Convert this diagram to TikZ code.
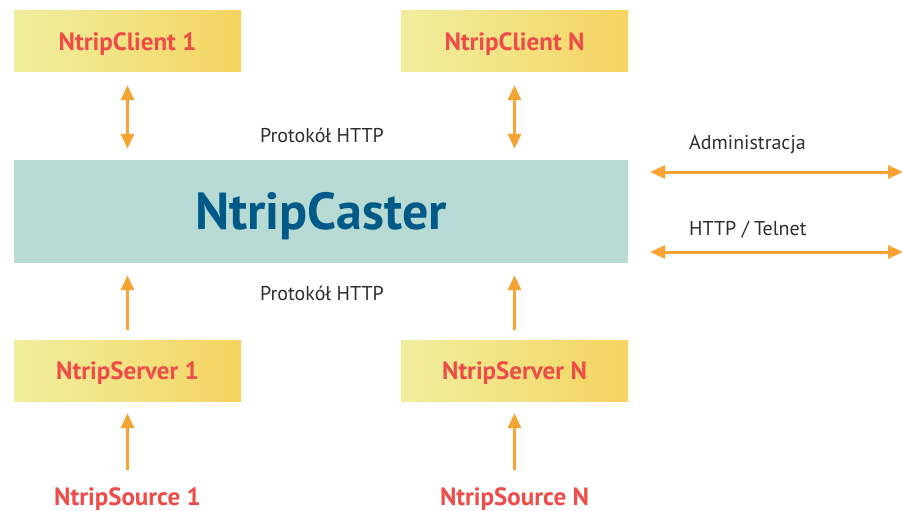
\documentclass[tikz,border=0pt]{standalone}
\usepackage{fontspec}
\setmainfont{PT Sans}
\usepackage{tikz}
\usetikzlibrary{arrows.meta}
\definecolor{boxlight}{HTML}{F0EE9E}
\definecolor{boxdark}{HTML}{F5D35F}
\definecolor{ntripred}{HTML}{EE4C48}
\definecolor{castfill}{HTML}{B8DAD4}
\definecolor{castblue}{HTML}{005A87}
\definecolor{arrorange}{HTML}{F5A332}
\definecolor{labgray}{HTML}{2E2E2E}

\begin{document}
\begin{tikzpicture}[x=1pt,y=-1pt,
  >={Triangle[width=13pt,length=15pt]},
  ntbox/.style={minimum width=227pt,minimum height=61pt,inner sep=0pt,
    left color=boxlight,right color=boxdark,middle color=boxlight!55!boxdark,
    text=ntripred,font=\fontsize{25}{30}\selectfont\bfseries,
    text height=17.5pt,text depth=0pt},
  srctext/.style={text=ntripred,font=\fontsize{25}{30}\selectfont\bfseries,
    text height=17.5pt,text depth=0pt,inner sep=0pt},
  lab/.style={text=labgray,font=\fontsize{20}{24}\selectfont},
  flow/.style={arrorange,line width=3pt}]
% NTRIP layout: clients on top, caster in the middle, servers and sources below.
\useasboundingbox (0,0) rectangle (903,511);
\node[ntbox] (cl1) at (127.5,41.5) {NtripClient 1};
\node[ntbox] (cln) at (514.5,41.5) {NtripClient N};
\node[fill=castfill,minimum width=614pt,minimum height=103pt,inner sep=0pt,
  text=castblue,font=\fontsize{52}{56}\selectfont\bfseries,
  text height=36pt,text depth=0pt] (caster) at (321,211.5) {NtripCaster};
\node[ntbox] (sv1) at (127.5,370.5) {NtripServer 1};
\node[ntbox] (svn) at (514.5,370.5) {NtripServer N};
\node[srctext] (so1) at (127.5,497) {NtripSource 1};
\node[srctext] (son) at (514.5,497) {NtripSource N};
\node[lab] (http1) at (322,135) {Protokół HTTP};
\node[lab] (http2) at (322,293) {Protokół HTTP};
\node[lab,anchor=west,inner sep=0pt] (adm) at (689,145) {Administracja};
\node[lab,anchor=west,inner sep=0pt] (tel) at (689,230) {HTTP / Telnet};
\coordinate (adml) at (650,172);
\coordinate (admr) at (903,172);
\coordinate (tell) at (650,252);
\coordinate (telr) at (903,252);
\draw[flow,<->,shorten <=13pt,shorten >=11pt] (cl1.south) -- (caster.north -| cl1.south);
\draw[flow,<->,shorten <=13pt,shorten >=11pt] (cln.south) -- (caster.north -| cln.south);
\draw[flow,->,shorten <=10pt,shorten >=12pt] (sv1.north) -- (caster.south -| sv1.north);
\draw[flow,->,shorten <=10pt,shorten >=12pt] (svn.north) -- (caster.south -| svn.north);
\draw[flow,->,shorten <=18pt,shorten >=12pt] (so1.north) -- (sv1.south);
\draw[flow,->,shorten <=18pt,shorten >=12pt] (son.north) -- (svn.south);
\draw[flow,<->] (adml) -- (admr);
\draw[flow,<->] (tell) -- (telr);
\end{tikzpicture}
\end{document}
